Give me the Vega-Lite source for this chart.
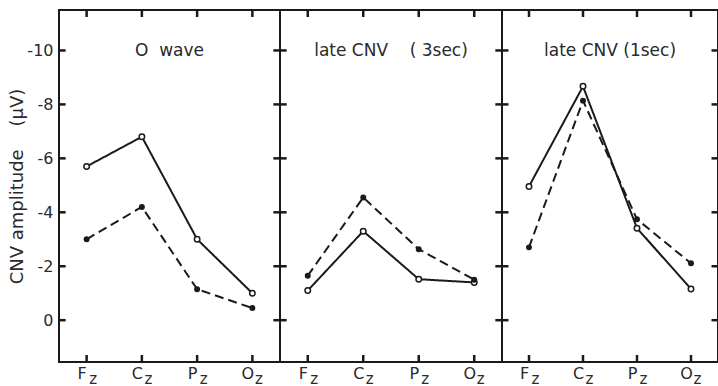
{
  "$schema": "https://vega.github.io/schema/vega-lite/v6.json",
  "background": "white",
  "padding": {"left": 7, "top": 7, "right": 0, "bottom": 0},
  "spacing": 0,
  "bounds": "flush",
  "datasets": {
    "d": [
      {"panel": "O", "series": "open", "site": "Fz", "amp": -5.7},
      {"panel": "O", "series": "open", "site": "Cz", "amp": -6.8},
      {"panel": "O", "series": "open", "site": "Pz", "amp": -3.0},
      {"panel": "O", "series": "open", "site": "Oz", "amp": -1.0},
      {"panel": "O", "series": "filled", "site": "Fz", "amp": -3.0},
      {"panel": "O", "series": "filled", "site": "Cz", "amp": -4.2},
      {"panel": "O", "series": "filled", "site": "Pz", "amp": -1.15},
      {"panel": "O", "series": "filled", "site": "Oz", "amp": -0.45},
      {"panel": "L3", "series": "open", "site": "Fz", "amp": -1.1},
      {"panel": "L3", "series": "open", "site": "Cz", "amp": -3.3},
      {"panel": "L3", "series": "open", "site": "Pz", "amp": -1.52},
      {"panel": "L3", "series": "open", "site": "Oz", "amp": -1.4},
      {"panel": "L3", "series": "filled", "site": "Fz", "amp": -1.65},
      {"panel": "L3", "series": "filled", "site": "Cz", "amp": -4.55},
      {"panel": "L3", "series": "filled", "site": "Pz", "amp": -2.63},
      {"panel": "L3", "series": "filled", "site": "Oz", "amp": -1.5},
      {"panel": "L1", "series": "open", "site": "Fz", "amp": -4.96},
      {"panel": "L1", "series": "open", "site": "Cz", "amp": -8.67},
      {"panel": "L1", "series": "open", "site": "Pz", "amp": -3.41},
      {"panel": "L1", "series": "open", "site": "Oz", "amp": -1.16},
      {"panel": "L1", "series": "filled", "site": "Fz", "amp": -2.7},
      {"panel": "L1", "series": "filled", "site": "Cz", "amp": -8.14},
      {"panel": "L1", "series": "filled", "site": "Pz", "amp": -3.74},
      {"panel": "L1", "series": "filled", "site": "Oz", "amp": -2.11}
    ],
    "sites": [{"site": "Fz"}, {"site": "Cz"}, {"site": "Pz"}, {"site": "Oz"}],
    "yt": [{"v": -10}, {"v": -8}, {"v": -6}, {"v": -4}, {"v": -2}, {"v": 0}]
  },
  "config": {
    "font": "DejaVu Sans",
    "view": {"stroke": "#1a1a1a", "strokeWidth": 2},
    "rule": {"color": "#1a1a1a", "strokeWidth": 2.5, "opacity": 1},
    "axis": {
      "grid": false,
      "domain": false,
      "ticks": false,
      "tickSize": 0,
      "labelFont": "DejaVu Sans",
      "labelColor": "#2a2a2a",
      "labelFontSize": 16,
      "titleFont": "DejaVu Sans",
      "titleColor": "#2a2a2a",
      "titleFontWeight": "normal",
      "titleFontSize": 18
    },
    "title": {"font": "DejaVu Sans", "fontSize": 17, "fontWeight": "normal", "color": "#2a2a2a", "frame": "group", "anchor": "middle", "offset": -51}
  },
  "hconcat": [
    {
      "width": 221,
      "height": 352,
      "title": {"text": "O\u00a0 wave"},
      "resolve": {"axis": {"x": "independent", "y": "independent"}, "scale": {"x": "independent"}},
      "layer": [
        {
          "data": {"name": "d"},
          "transform": [{"filter": "datum.panel == 'O'"}],
          "mark": {"type": "line", "strokeWidth": 2, "color": "#1a1a1a"},
          "encoding": {
            "x": {"field": "site", "type": "ordinal", "scale": {"type": "point", "domain": ["Fz", "Cz", "Pz", "Oz"], "padding": 0.5}, "axis": {"orient": "bottom", "title": null, "labelAngle": 0, "labelExpr": "substring(datum.label,0,1)", "labelOffset": -5, "labelPadding": 3}},
            "y": {"field": "amp", "type": "quantitative", "scale": {"domain": [-11.5, 1.55], "reverse": true, "nice": false, "zero": false}, "axis": {"orient": "left", "values": [-10, -8, -6, -4, -2, 0], "title": "CNV amplitude\u00a0\u00a0\u00a0 (μV)", "labelExpr": "datum.value == 0 ? '0' : '-' + abs(datum.value)", "labelPadding": 6, "titlePadding": 0}},
            "strokeDash": {"field": "series", "type": "nominal", "scale": {"domain": ["open", "filled"], "range": [[1, 0], [9, 5]]}, "legend": null},
            "order": {"value": null}
          }
        },
        {
          "data": {"name": "d"},
          "transform": [{"filter": "datum.panel == 'O'"}],
          "mark": {"type": "point", "shape": "circle", "stroke": "#1a1a1a", "strokeWidth": 1.5, "opacity": 1, "fillOpacity": 1},
          "encoding": {
            "x": {"field": "site", "type": "ordinal", "scale": {"type": "point", "domain": ["Fz", "Cz", "Pz", "Oz"], "padding": 0.5}, "axis": null},
            "y": {"field": "amp", "type": "quantitative", "axis": null},
            "fill": {"field": "series", "type": "nominal", "scale": {"domain": ["open", "filled"], "range": ["white", "#1a1a1a"]}, "legend": null},
            "size": {"field": "series", "type": "nominal", "scale": {"domain": ["open", "filled"], "range": [30, 20]}, "legend": null}
          }
        },
        {
          "data": {"name": "sites"},
          "mark": {"type": "rule"},
          "encoding": {
            "x": {"field": "site", "type": "ordinal", "scale": {"type": "point", "domain": ["Fz", "Cz", "Pz", "Oz"], "padding": 0.5}, "axis": null},
            "y": {"datum": -11.5, "type": "quantitative", "axis": null},
            "y2": {"datum": -11.24}
          }
        },
        {
          "data": {"name": "sites"},
          "mark": {"type": "rule"},
          "encoding": {
            "x": {"field": "site", "type": "ordinal", "scale": {"type": "point", "domain": ["Fz", "Cz", "Pz", "Oz"], "padding": 0.5}, "axis": {"orient": "bottom", "title": null, "labelAngle": 0, "labelExpr": "substring(datum.label,1)", "labelOffset": 6, "labelPadding": 9, "labelFontSize": 15}},
            "y": {"datum": 1.55, "type": "quantitative", "axis": null},
            "y2": {"datum": 1.29}
          }
        },
        {
          "data": {"name": "yt"},
          "mark": {"type": "rule"},
          "encoding": {
            "x": {"datum": 0, "type": "quantitative", "scale": {"domain": [0, 1]}, "axis": null},
            "x2": {"datum": 0.03},
            "y": {"field": "v", "type": "quantitative", "axis": null}
          }
        },
        {
          "data": {"name": "yt"},
          "mark": {"type": "rule"},
          "encoding": {
            "x": {"datum": 0.97, "type": "quantitative", "scale": {"domain": [0, 1]}, "axis": null},
            "x2": {"datum": 1},
            "y": {"field": "v", "type": "quantitative", "axis": null}
          }
        }
      ]
    },
    {
      "width": 222,
      "height": 352,
      "title": {"text": "late CNV\u00a0\u00a0\u00a0 ( 3sec)"},
      "resolve": {"axis": {"x": "independent", "y": "independent"}, "scale": {"x": "independent"}},
      "layer": [
        {
          "data": {"name": "d"},
          "transform": [{"filter": "datum.panel == 'L3'"}],
          "mark": {"type": "line", "strokeWidth": 2, "color": "#1a1a1a"},
          "encoding": {
            "x": {"field": "site", "type": "ordinal", "scale": {"type": "point", "domain": ["Fz", "Cz", "Pz", "Oz"], "padding": 0.5}, "axis": {"orient": "bottom", "title": null, "labelAngle": 0, "labelExpr": "substring(datum.label,0,1)", "labelOffset": -5, "labelPadding": 3}},
            "y": {"field": "amp", "type": "quantitative", "scale": {"domain": [-11.5, 1.55], "reverse": true, "nice": false, "zero": false}, "axis": null},
            "strokeDash": {"field": "series", "type": "nominal", "scale": {"domain": ["open", "filled"], "range": [[1, 0], [9, 5]]}, "legend": null},
            "order": {"value": null}
          }
        },
        {
          "data": {"name": "d"},
          "transform": [{"filter": "datum.panel == 'L3'"}],
          "mark": {"type": "point", "shape": "circle", "stroke": "#1a1a1a", "strokeWidth": 1.5, "opacity": 1, "fillOpacity": 1},
          "encoding": {
            "x": {"field": "site", "type": "ordinal", "scale": {"type": "point", "domain": ["Fz", "Cz", "Pz", "Oz"], "padding": 0.5}, "axis": null},
            "y": {"field": "amp", "type": "quantitative", "axis": null},
            "fill": {"field": "series", "type": "nominal", "scale": {"domain": ["open", "filled"], "range": ["white", "#1a1a1a"]}, "legend": null},
            "size": {"field": "series", "type": "nominal", "scale": {"domain": ["open", "filled"], "range": [30, 20]}, "legend": null}
          }
        },
        {
          "data": {"name": "sites"},
          "mark": {"type": "rule"},
          "encoding": {
            "x": {"field": "site", "type": "ordinal", "scale": {"type": "point", "domain": ["Fz", "Cz", "Pz", "Oz"], "padding": 0.5}, "axis": null},
            "y": {"datum": -11.5, "type": "quantitative", "axis": null},
            "y2": {"datum": -11.24}
          }
        },
        {
          "data": {"name": "sites"},
          "mark": {"type": "rule"},
          "encoding": {
            "x": {"field": "site", "type": "ordinal", "scale": {"type": "point", "domain": ["Fz", "Cz", "Pz", "Oz"], "padding": 0.5}, "axis": {"orient": "bottom", "title": null, "labelAngle": 0, "labelExpr": "substring(datum.label,1)", "labelOffset": 6, "labelPadding": 9, "labelFontSize": 15}},
            "y": {"datum": 1.55, "type": "quantitative", "axis": null},
            "y2": {"datum": 1.29}
          }
        },
        {
          "data": {"name": "yt"},
          "mark": {"type": "rule"},
          "encoding": {
            "x": {"datum": 0, "type": "quantitative", "scale": {"domain": [0, 1]}, "axis": null},
            "x2": {"datum": 0.03},
            "y": {"field": "v", "type": "quantitative", "axis": null}
          }
        },
        {
          "data": {"name": "yt"},
          "mark": {"type": "rule"},
          "encoding": {
            "x": {"datum": 0.97, "type": "quantitative", "scale": {"domain": [0, 1]}, "axis": null},
            "x2": {"datum": 1},
            "y": {"field": "v", "type": "quantitative", "axis": null}
          }
        }
      ]
    },
    {
      "width": 216,
      "height": 352,
      "title": {"text": "late CNV (1sec)"},
      "resolve": {"axis": {"x": "independent", "y": "independent"}, "scale": {"x": "independent"}},
      "layer": [
        {
          "data": {"name": "d"},
          "transform": [{"filter": "datum.panel == 'L1'"}],
          "mark": {"type": "line", "strokeWidth": 2, "color": "#1a1a1a"},
          "encoding": {
            "x": {"field": "site", "type": "ordinal", "scale": {"type": "point", "domain": ["Fz", "Cz", "Pz", "Oz"], "padding": 0.5}, "axis": {"orient": "bottom", "title": null, "labelAngle": 0, "labelExpr": "substring(datum.label,0,1)", "labelOffset": -5, "labelPadding": 3}},
            "y": {"field": "amp", "type": "quantitative", "scale": {"domain": [-11.5, 1.55], "reverse": true, "nice": false, "zero": false}, "axis": null},
            "strokeDash": {"field": "series", "type": "nominal", "scale": {"domain": ["open", "filled"], "range": [[1, 0], [9, 5]]}, "legend": null},
            "order": {"value": null}
          }
        },
        {
          "data": {"name": "d"},
          "transform": [{"filter": "datum.panel == 'L1'"}],
          "mark": {"type": "point", "shape": "circle", "stroke": "#1a1a1a", "strokeWidth": 1.5, "opacity": 1, "fillOpacity": 1},
          "encoding": {
            "x": {"field": "site", "type": "ordinal", "scale": {"type": "point", "domain": ["Fz", "Cz", "Pz", "Oz"], "padding": 0.5}, "axis": null},
            "y": {"field": "amp", "type": "quantitative", "axis": null},
            "fill": {"field": "series", "type": "nominal", "scale": {"domain": ["open", "filled"], "range": ["white", "#1a1a1a"]}, "legend": null},
            "size": {"field": "series", "type": "nominal", "scale": {"domain": ["open", "filled"], "range": [30, 20]}, "legend": null}
          }
        },
        {
          "data": {"name": "sites"},
          "mark": {"type": "rule"},
          "encoding": {
            "x": {"field": "site", "type": "ordinal", "scale": {"type": "point", "domain": ["Fz", "Cz", "Pz", "Oz"], "padding": 0.5}, "axis": null},
            "y": {"datum": -11.5, "type": "quantitative", "axis": null},
            "y2": {"datum": -11.24}
          }
        },
        {
          "data": {"name": "sites"},
          "mark": {"type": "rule"},
          "encoding": {
            "x": {"field": "site", "type": "ordinal", "scale": {"type": "point", "domain": ["Fz", "Cz", "Pz", "Oz"], "padding": 0.5}, "axis": {"orient": "bottom", "title": null, "labelAngle": 0, "labelExpr": "substring(datum.label,1)", "labelOffset": 6, "labelPadding": 9, "labelFontSize": 15}},
            "y": {"datum": 1.55, "type": "quantitative", "axis": null},
            "y2": {"datum": 1.29}
          }
        },
        {
          "data": {"name": "yt"},
          "mark": {"type": "rule"},
          "encoding": {
            "x": {"datum": 0, "type": "quantitative", "scale": {"domain": [0, 1]}, "axis": null},
            "x2": {"datum": 0.03},
            "y": {"field": "v", "type": "quantitative", "axis": null}
          }
        },
        {
          "data": {"name": "yt"},
          "mark": {"type": "rule"},
          "encoding": {
            "x": {"datum": 0.97, "type": "quantitative", "scale": {"domain": [0, 1]}, "axis": null},
            "x2": {"datum": 1},
            "y": {"field": "v", "type": "quantitative", "axis": null}
          }
        }
      ]
    }
  ]
}
